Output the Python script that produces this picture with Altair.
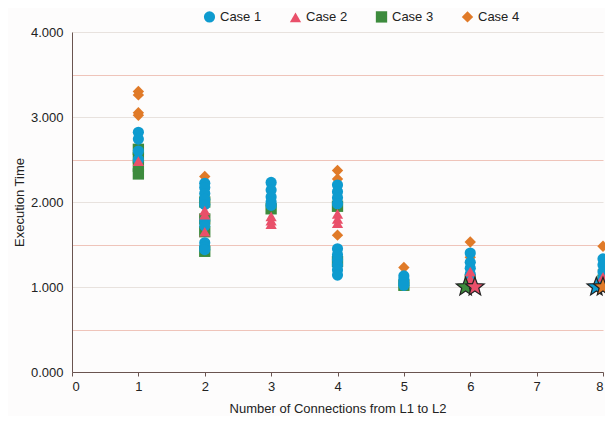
import math
import altair as alt
import pandas as pd

cases = ["Case 1", "Case 2", "Case 3", "Case 4"]
case_colors = ["#0e9bcf", "#e9506a", "#3d8b3d", "#e07a28"]
case_shapes = ["circle", "triangle-up", "square", "diamond"]
case_sizes = [125, 130, 110, 170]

# Case 1 (circles)
case1_x = [1, 1, 1, 1,
           2, 2, 2, 2, 2, 2, 2, 2, 2, 2,
           3, 3, 3, 3, 3,
           4, 4, 4, 4, 4, 4, 4, 4, 4, 4,
           5, 5, 5, 5,
           6, 6, 6, 6,
           8, 8, 8, 8, 8]
case1_y = [2.82, 2.74, 2.60, 2.50,
           2.22, 2.17, 2.10, 2.03, 1.97, 1.78, 1.72, 1.52, 1.47, 1.44,
           2.23, 2.14, 2.06, 2.00, 1.96,
           2.20, 2.12, 2.05, 1.98, 1.45, 1.38, 1.32, 1.26, 1.20, 1.14,
           1.13, 1.09, 1.05, 1.02,
           1.40, 1.29, 1.22, 1.15,
           1.33, 1.26, 1.18, 1.10, 1.04]

# Case 2 (triangles)
case2_x = [1, 2, 2, 2, 3, 3, 3, 4, 4, 4, 6, 6, 8]
case2_y = [2.48, 1.90, 1.85, 1.65, 1.83, 1.78, 1.74, 1.86, 1.80, 1.75, 1.18, 1.10, 1.12]

# Case 3 (squares)
case3_x = [1, 1, 1, 1, 2, 2, 2, 2, 3, 4, 4, 5, 6, 8]
case3_y = [2.62, 2.52, 2.42, 2.33, 2.00, 1.80, 1.65, 1.42, 1.92, 1.95, 1.30, 1.02, 1.08, 1.08]

# Case 4 (diamonds)
case4_x = [1, 1, 1, 1, 2, 4, 4, 4, 5, 6, 6, 8, 8]
case4_y = [3.30, 3.26, 3.05, 3.02, 2.30, 2.37, 2.27, 1.61, 1.23, 1.53, 1.35, 1.48, 1.20]

# Stars (best results)
star_case = ["Case 3", "Case 2", "Case 1", "Case 4"]
star_x = [5.93, 6.07, 7.90, 8.0]
star_y = [1.0, 1.0, 1.0, 1.0]

x_ticks = [0, 1, 2, 3, 4, 5, 6, 7, 8]
y_ticks = [0, 0.5, 1, 1.5, 2, 2.5, 3, 3.5, 4]

rows = []
for name, xs, ys in [("Case 4", case4_x, case4_y), ("Case 3", case3_x, case3_y),
                     ("Case 1", case1_x, case1_y), ("Case 2", case2_x, case2_y)]:
    for xv, yv in zip(xs, ys):
        rows.append({"case": name, "x": xv, "y": yv})
df = pd.DataFrame(rows)
stars = pd.DataFrame({"case": star_case, "x": star_x, "y": star_y})

# five-pointed star symbol path (unit box)
pts = []
for k in range(10):
    a = math.radians(-90 + 36 * k)
    r = 1.0 if k % 2 == 0 else 0.42
    pts.append(f"{r*math.cos(a):.3f} {r*math.sin(a):.3f}")
star_path = "M" + " L".join(pts) + " Z"

FONT = "Liberation Sans"

xenc = alt.X("x:Q", scale=alt.Scale(domain=[0, 8], nice=False),
             axis=alt.Axis(values=x_ticks, title="Number of Connections from L1 to L2",
                           grid=False, tickSize=4, labelPadding=4, titlePadding=9,
                           domainColor="#6a5450", tickColor="#6a5450", format="d"))
yenc = alt.Y("y:Q", scale=alt.Scale(domain=[0, 4], nice=False),
             axis=alt.Axis(values=y_ticks, title="Execution Time",
                           labelExpr="datum.value % 1 === 0 ? format(datum.value, '.3f') : ''",
                           ticks=False, tickSize=0, labelPadding=9, titlePadding=4,
                           domainColor="#6a5450",
                           gridColor={"condition": {"test": "datum.value % 1 !== 0", "value": "#efc4ba"},
                                      "value": "#e8e2de"}))

points = alt.Chart(df).mark_point(filled=True, opacity=1).encode(
    x=xenc, y=yenc,
    color=alt.Color("case:N", scale=alt.Scale(domain=cases, range=case_colors),
                    legend=alt.Legend(title=None, orient="none", direction="horizontal",
                                      legendX=131, legendY=-22, columnPadding=24,
                                      symbolSize=55, labelFontSize=13, labelFont=FONT,
                                      labelColor="#222", symbolOpacity=1)),
    shape=alt.Shape("case:N", scale=alt.Scale(domain=cases, range=case_shapes)),
    size=alt.Size("case:N", scale=alt.Scale(domain=cases, range=case_sizes), legend=None),
)

star_layer = alt.Chart(stars).mark_point(shape=star_path, filled=True, opacity=1, size=380,
                                         stroke="#222222", strokeWidth=1.2).encode(
    x="x:Q", y="y:Q",
    fill=alt.Fill("case:N", scale=alt.Scale(domain=cases, range=case_colors), legend=None),
)

chart = alt.layer(points, star_layer).properties(
    width=531, height=340,
    autosize=alt.AutoSizeParams(type="none"),
    padding={"left": 64, "top": 24, "right": 2, "bottom": 44},
    background="#fdfcfc",
).configure_view(stroke=None).configure_axis(
    labelFont=FONT, titleFont=FONT, labelFontSize=13, titleFontSize=13,
    titleFontWeight="normal", labelColor="#222", titleColor="#222",
)

chart.save("out.html", embed_options={"renderer": "svg", "actions": False})
